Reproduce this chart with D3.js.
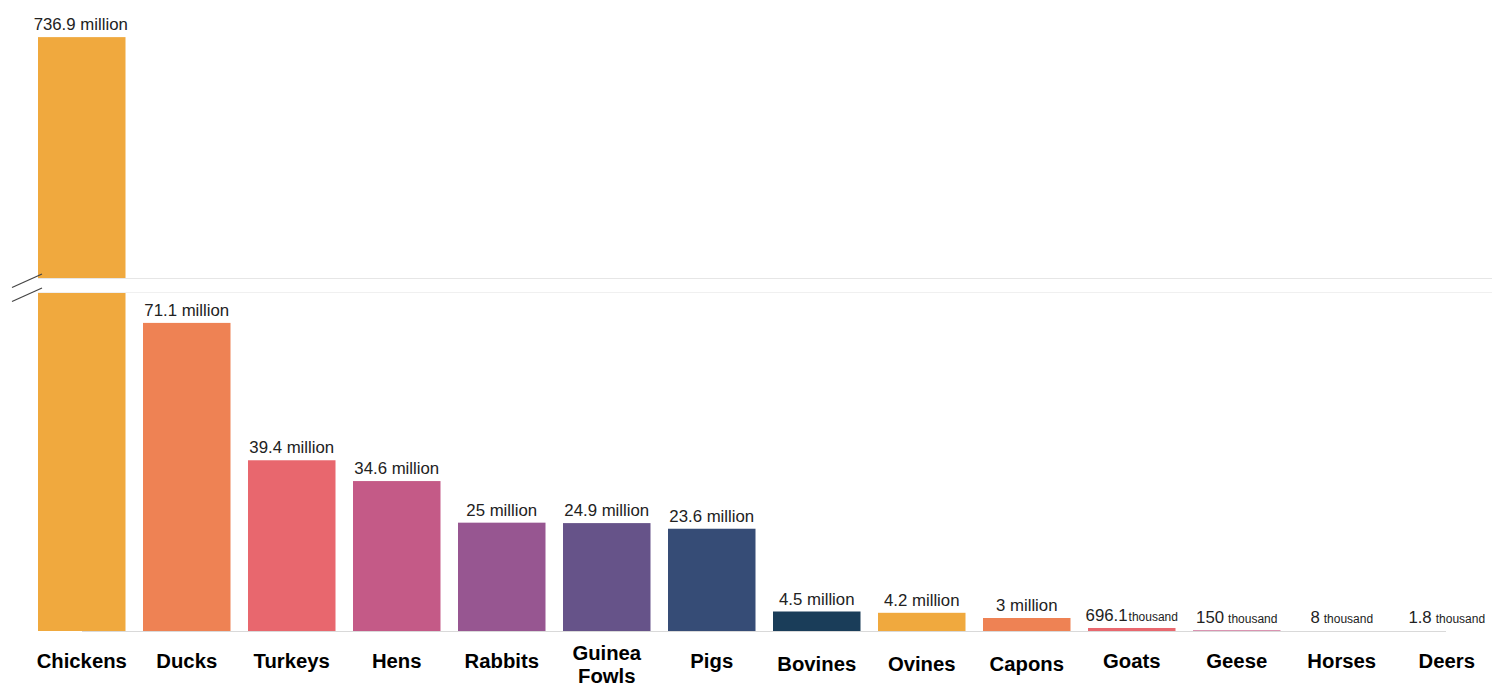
<!DOCTYPE html>
<html>
<head>
<meta charset="utf-8">
<script src="https://cdn.jsdelivr.net/npm/d3@7"></script>
<style>
  html, body { margin: 0; padding: 0; background: #fff; }
  svg { display: block; font-family: "Liberation Sans", Arial, Helvetica, sans-serif; }
</style>
</head>
<body>
<svg id="chart" width="1492" height="687"></svg>
<script>
// ---- data ----
const categories = ["Chickens", "Ducks", "Turkeys", "Hens", "Rabbits", "Guinea Fowls", "Pigs",
  "Bovines", "Ovines", "Capons", "Goats", "Geese", "Horses", "Deers"];
// values in millions
const values = [736.9, 71.1, 39.4, 34.6, 25, 24.9, 23.6, 4.5, 4.2, 3, 0.6961, 0.15, 0.008, 0.0018];
const valueNumbers = ["736.9", "71.1", "39.4", "34.6", "25", "24.9", "23.6", "4.5", "4.2", "3", "696.1", "150", "8", "1.8"];
const valueUnits = ["million", "million", "million", "million", "million", "million", "million",
  "million", "million", "million", "thousand", "thousand", "thousand", "thousand"];
const colors = ["#F0A93E", "#EE8254", "#E8676E", "#C45A87", "#975691", "#665389", "#364C76",
  "#1A3D59", "#F0A93E", "#EE8254", "#E8676E", "#C45A87", "#975691", "#665389"];
const lowerDomain = [0, 78];     // millions, lower panel
const upperDomain = [680, 740];  // millions, upper panel (broken axis)

// ---- layout ----
const svg = d3.select("#chart");
const baseY = 631, breakLow = 293, breakHigh = 278, topY = 24;

const x = d3.scaleBand().domain(categories).range([38, 1490.5]).paddingInner(1 / 6).paddingOuter(0);
const yLow = d3.scaleLinear().domain(lowerDomain).range([baseY, breakLow]);
const yHigh = d3.scaleLinear().domain(upperDomain).range([breakHigh, topY]);

const data = categories.map((c, i) => ({
  cat: c, v: values[i], num: valueNumbers[i], unit: valueUnits[i], color: colors[i]
}));

// break guide lines
svg.append("line").attr("x1", 38).attr("x2", 1492).attr("y1", breakHigh + 0.5).attr("y2", breakHigh + 0.5)
  .attr("stroke", "#e6e6e6").attr("stroke-width", 1);
svg.append("line").attr("x1", 38).attr("x2", 1492).attr("y1", breakLow - 0.5).attr("y2", breakLow - 0.5)
  .attr("stroke", "#f0f0f0").attr("stroke-width", 1);

// lower bars (bars thinner than half a pixel are not drawn)
svg.append("g").selectAll("rect").data(data.filter(d => baseY - yLow(d.v) >= 0.5)).join("rect")
  .attr("x", d => x(d.cat))
  .attr("width", x.bandwidth())
  .attr("y", d => yLow(Math.min(d.v, lowerDomain[1])))
  .attr("height", d => baseY - yLow(Math.min(d.v, lowerDomain[1])))
  .attr("fill", d => d.color);

// upper bars (only values beyond the break)
const upper = data.filter(d => d.v > lowerDomain[1]);
svg.append("g").selectAll("rect").data(upper.filter(d => d.v > upperDomain[0])).join("rect")
  .attr("x", d => x(d.cat))
  .attr("width", x.bandwidth())
  .attr("y", d => yHigh(d.v))
  .attr("height", d => breakHigh - yHigh(d.v))
  .attr("fill", d => d.color);

// baseline
svg.append("line").attr("x1", 82).attr("x2", 1446).attr("y1", baseY + 0.5).attr("y2", baseY + 0.5)
  .attr("stroke", "#d9d9d9").attr("stroke-width", 1.2);

// break slashes
const slashes = svg.append("g").attr("stroke", "#444").attr("stroke-width", 1.2);
slashes.append("line").attr("x1", 12).attr("y1", 287.5).attr("x2", 42).attr("y2", 274);
slashes.append("line").attr("x1", 12).attr("y1", 301.5).attr("x2", 42).attr("y2", 288);

// value labels
function barTop(d) {
  return d.v > lowerDomain[1] ? yHigh(d.v) : yLow(d.v);
}
const vl = svg.append("g").selectAll("text").data(data).join("text")
  .attr("x", d => x(d.cat) + x.bandwidth() / 2 - (d.cat === "Chickens" ? 1 : 0))
  .attr("y", d => Math.min(barTop(d), baseY - 1) - 7)
  .attr("text-anchor", "middle")
  .attr("fill", "#222");
vl.append("tspan").attr("font-size", 16.8).text(d => d.num);
vl.append("tspan").attr("font-size", d => d.unit === "thousand" ? 12 : 16.8)
  .attr("dx", d => d.unit === "thousand" ? (d.cat === "Goats" ? 1 : 4) : 0)
  .text(d => (d.unit === "thousand" ? "" : " ") + d.unit);

// category labels
const cl = svg.append("g").selectAll("text").data(data).join("text")
  .attr("x", d => x(d.cat) + x.bandwidth() / 2)
  .attr("y", d => ["Bovines", "Ovines", "Capons"].includes(d.cat) ? 671 : 668)
  .attr("text-anchor", "middle")
  .attr("font-size", 20.3)
  .attr("font-weight", "bold")
  .attr("fill", "#000");
cl.each(function (d) {
  const t = d3.select(this);
  const parts = d.cat === "Guinea Fowls" ? ["Guinea", "Fowls"] : [d.cat];
  if (parts.length === 2) {
    t.attr("y", 660);
    t.append("tspan").attr("x", x(d.cat) + x.bandwidth() / 2).text(parts[0]);
    t.append("tspan").attr("x", x(d.cat) + x.bandwidth() / 2).attr("dy", 23).text(parts[1]);
  } else {
    t.text(parts[0]);
  }
});
</script>
</body>
</html>
